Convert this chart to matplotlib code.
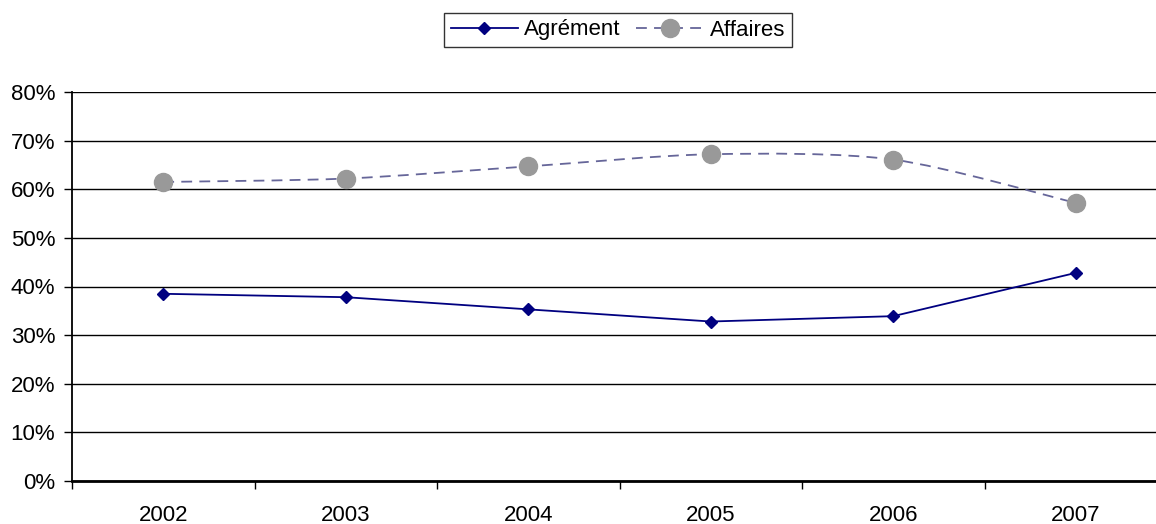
import numpy as np
import matplotlib.pyplot as plt
from matplotlib.path import Path
from matplotlib.patches import PathPatch
from matplotlib.lines import Line2D

plt.rcParams['font.family'] = ['Liberation Sans', 'DejaVu Sans']

years = ['2002', '2003', '2004', '2005', '2006', '2007']
agrement = [38.5, 37.8, 35.3, 32.8, 33.9, 42.8]
affaires = [61.5, 62.2, 64.7, 67.2, 66.1, 57.2]

navy = '#000080'
dash_col = '#666699'
dot_col = '#999999'


def smooth_path(xs, ys, t=1 / 7):
    # cubic bezier through the points, catmull-rom style control points
    xs = np.asarray(xs, float)
    ys = np.asarray(ys, float)
    n = len(xs)
    verts = [(xs[0], ys[0])]
    codes = [Path.MOVETO]
    for i in range(n - 1):
        p0 = i - 1 if i > 0 else i
        p3 = i + 2 if i + 2 < n else i + 1
        c1 = (xs[i] + (xs[i + 1] - xs[p0]) * t, ys[i] + (ys[i + 1] - ys[p0]) * t)
        c2 = (xs[i + 1] - (xs[p3] - xs[i]) * t, ys[i + 1] - (ys[p3] - ys[i]) * t)
        verts += [c1, c2, (xs[i + 1], ys[i + 1])]
        codes += [Path.CURVE4] * 3
    return Path(verts, codes)


fig = plt.figure(figsize=(11.56, 5.24), dpi=100)
ax = fig.add_axes([72 / 1156, 1 - 481 / 524, 1095 / 1156, 389 / 524])

x = np.arange(len(years))

ax.plot(x, agrement, color=navy, lw=1.3, marker='D', ms=6,
        mfc=navy, mec=navy, zorder=4)

curve = PathPatch(smooth_path(x, affaires), fill=False, edgecolor=dash_col,
                  lw=1.3, linestyle=(0, (6, 4)), zorder=3)
ax.add_patch(curve)
ax.plot(x, affaires, linestyle='none', marker='o', ms=13,
        mfc=dot_col, mec=dot_col, zorder=5)

ax.set_xlim(-0.5, len(years) - 0.5)
ax.set_ylim(0, 80)
ax.set_yticks(np.arange(0, 81, 10))
ax.set_yticklabels([f'{v}%' for v in range(0, 81, 10)])
ax.yaxis.grid(True, color='black', lw=1)
ax.set_axisbelow(True)

ax.set_xticks(np.arange(-0.5, len(years), 1))
ax.set_xticklabels([])
ax.set_xticks(x, minor=True)
ax.set_xticklabels(years, minor=True)
ax.tick_params(axis='x', which='minor', length=0, pad=17, labelsize=16)
ax.tick_params(axis='x', which='major', length=6, width=1, direction='out')
ax.tick_params(axis='y', length=6, width=1, direction='out', labelsize=16, pad=6)

for s in ['top', 'right']:
    ax.spines[s].set_visible(False)
ax.spines['left'].set_linewidth(1.3)
ax.spines['bottom'].set_linewidth(2)

handles = [
    Line2D([], [], color=navy, lw=1.3, marker='D', ms=6, mfc=navy, mec=navy),
    Line2D([], [], color=dash_col, lw=1.3, linestyle=(0, (6, 4)), marker='o',
           ms=13, mfc=dot_col, mec=dot_col),
]
leg = fig.legend(handles, ['Agrément', 'Affaires'], loc='center',
                 bbox_to_anchor=(618 / 1156, 1 - 30 / 524), ncol=2,
                 fontsize=16, frameon=True, fancybox=False, edgecolor='black',
                 handlelength=3.0, handletextpad=0.3, columnspacing=0.7,
                 borderpad=0.3)
leg.get_frame().set_linewidth(1)

fig.savefig('out.png', dpi=100)
